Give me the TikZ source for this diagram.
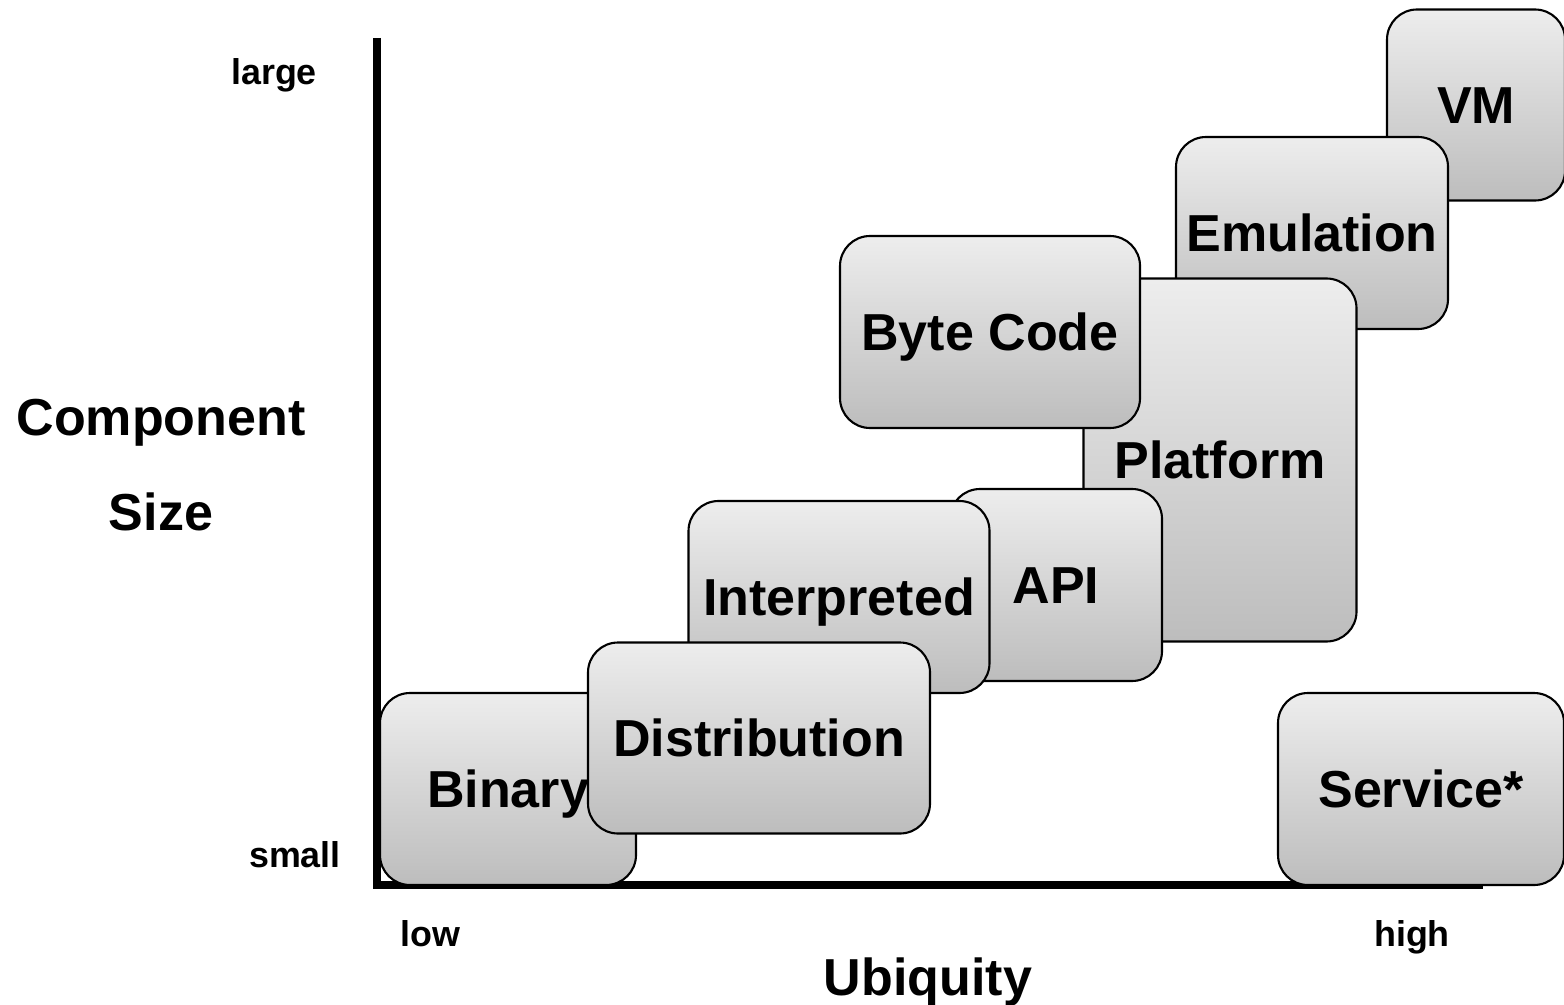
\documentclass[tikz,border=0pt]{standalone}
\usepackage{fontspec}
\setmainfont{Liberation Sans}
\begin{document}
\begin{tikzpicture}[x=0.1mm,y=-0.1mm,
  comp/.style={draw,line width=0.6pt,rounded corners=3mm,top color=black!7,
    bottom color=black!26,inner sep=0pt,text height=10.6pt,text depth=0pt,
    font=\fontsize{14.8}{17}\selectfont\bfseries},
  ticklbl/.style={text height=7.3pt,text depth=0pt,font=\fontsize{10.2}{12}\selectfont\bfseries},
  axislbl/.style={text height=10.6pt,text depth=0pt,font=\fontsize{14.8}{17}\selectfont\bfseries}]
\useasboundingbox (0,0) rectangle (1564,1004);

% axes
\coordinate (top) at (377,38);
\coordinate (origin) at (377,885);
\coordinate (right) at (1483,885);
\draw[line width=2pt] (top) -- (origin) -- (right);

\node[ticklbl] (large) at (274,72) {large};
\node[ticklbl] (small) at (295,855) {small};
\node[ticklbl] (low) at (430,934) {low};
\node[ticklbl] (high) at (1412,934) {high};
\node[axislbl] (ubiq) at (928,977) {Ubiquity};
\node[axislbl] (comp1) at (161,417) {Component};
\node[axislbl] (comp2) at (161,512) {Size};

% components, back to front
\node[comp,minimum width=17.8mm,minimum height=19.1mm] (vm) at (1476,105) {VM};
\node[comp,minimum width=27.2mm,minimum height=19.2mm] (emul) at (1312,233) {Emulation};
\node[comp,minimum width=27.3mm,minimum height=36.3mm] (platform) at (1220,460) {Platform};
\node[comp,minimum width=30.0mm,minimum height=19.2mm] (bytecode) at (990,332) {Byte Code};
\node[comp,minimum width=21.2mm,minimum height=19.2mm] (api) at (1056,585) {API};
\node[comp,minimum width=30.1mm,minimum height=19.2mm] (interp) at (839,597) {Interpreted};
\node[comp,minimum width=25.6mm,minimum height=19.2mm] (binary) at (508,789) {Binary};
\node[comp,minimum width=34.2mm,minimum height=19.1mm] (distrib) at (759,738) {Distribution};
\node[comp,minimum width=28.6mm,minimum height=19.2mm] (service) at (1421,789) {Service*};
\end{tikzpicture}
\end{document}
